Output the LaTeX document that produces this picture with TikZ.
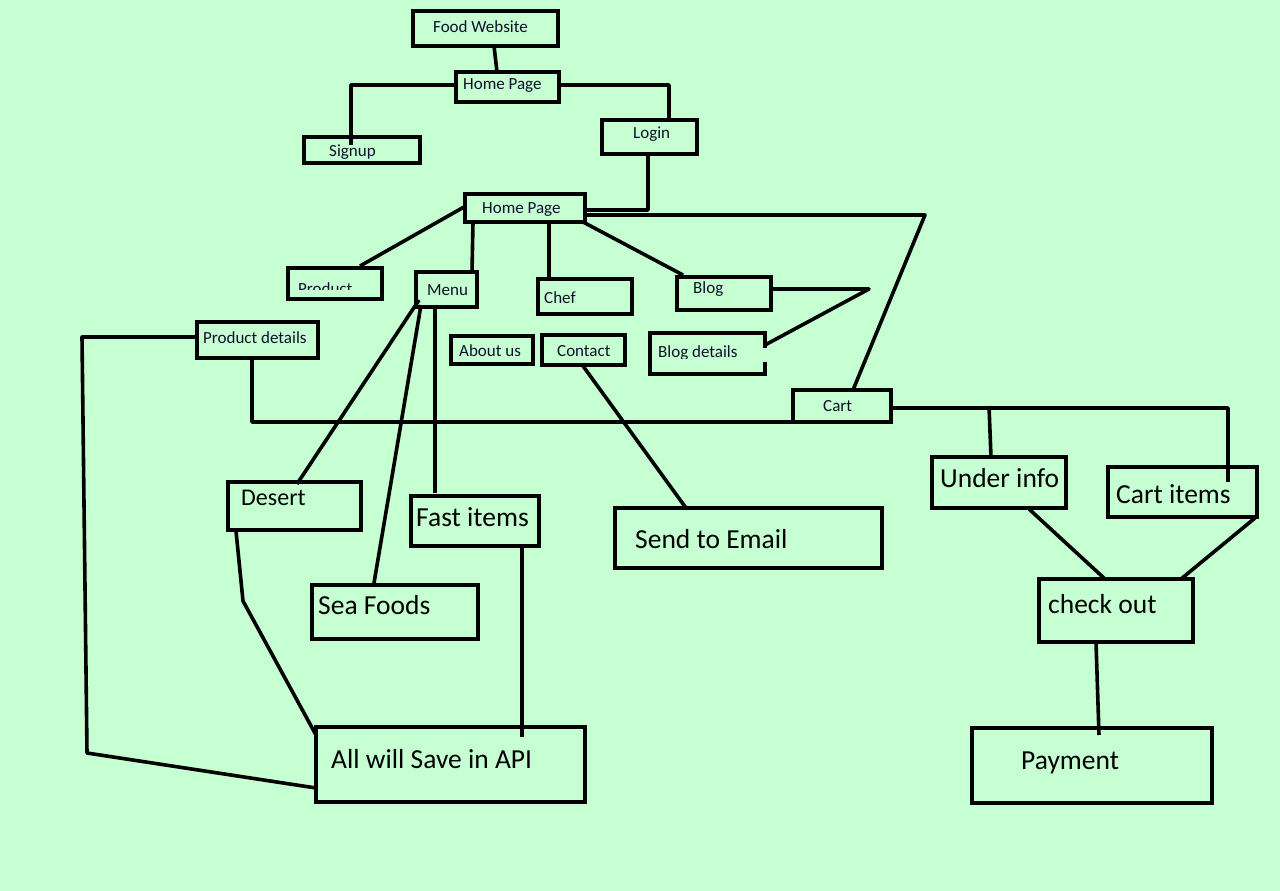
\documentclass[tikz,border=0pt]{standalone}
\usepackage{fontspec}
\setmainfont{Carlito}
\usetikzlibrary{calc}
\definecolor{bgc}{RGB}{197,255,210}
\definecolor{smalltxt}{RGB}{15,15,45}
\tikzset{
  box/.style={draw, line width=3.6pt, inner sep=0pt, outer sep=0pt, anchor=north west, line join=miter},
  ln/.style={line width=3.6pt, line join=round},
  sm/.style={inner sep=0pt, anchor=base west, text=smalltxt, font=\fontsize{17}{20}\selectfont},
  lg/.style={inner sep=0pt, anchor=base west, text=black, font=\fontsize{27.5}{32}\selectfont},
  md/.style={inner sep=0pt, anchor=base west, text=black, font=\fontsize{24}{28}\selectfont}
}
\begin{document}
\begin{tikzpicture}[x=1pt,y=-1pt]
\useasboundingbox (0,0) rectangle (1280,891);
\fill[bgc] (0,0) rectangle (1280,891);

% texts
\node[sm] (tfood) at (433,33) {Food Website};
\node[sm] (thome1) at (463,89) {Home Page};
\node[sm] (tsignup) at (329,156) {Signup};
\node[sm] (tlogin) at (633,138) {Login};
\node[sm] (thome2) at (482,213) {Home Page};
\begin{scope}
\clip (288,255) rectangle (382,289.5);
\node[sm] (tproduct) at (298,294) {Product};
\end{scope}
\node[sm] (tmenu) at (427,295) {Menu};
\node[sm] (tchef) at (544,303) {Chef};
\node[sm] (tblog) at (693,293) {Blog};
\node[sm] (tpdet) at (203,343) {Product details};
\node[sm] (tabout) at (459,356) {About us};
\node[sm] (tcontact) at (557,356) {Contact};
\begin{scope}
\clip (650,330) rectangle (765,358.5);
\node[sm] (tblogdet) at (658,357) {Blog details};
\end{scope}
\node[sm] (tcart) at (823,411) {Cart};
\node[md] (tdesert) at (241,505) {Desert};
\node[lg] (tfast) at (416,526) {Fast items};
\node[lg] (tsea) at (318,614) {Sea Foods};
\node[lg] (tapi) at (331,768) {All will Save in API};
\node[lg] (tunder) at (940,487) {Under info};
\node[lg] (tcartitems) at (1116,503) {Cart items};
\node[lg] (temail) at (635,548) {Send to Email};
\node[lg] (tcheck) at (1048,613) {check out};
\node[lg] (tpay) at (1021,769) {Payment};

% boxes
\node[box, minimum width=145pt, minimum height=35pt] (food) at (413,11) {};
\node[box, minimum width=103pt, minimum height=30pt] (home1) at (456,72) {};
\node[box, minimum width=116pt, minimum height=26pt] (signup) at (304,137) {};
\node[box, minimum width=95pt, minimum height=34pt] (login) at (602,120) {};
\node[box, minimum width=120pt, minimum height=28pt] (home2) at (465,194) {};
\node[box, minimum width=94pt, minimum height=31pt] (product) at (288,268) {};
\node[box, minimum width=61pt, minimum height=35pt] (menu) at (416,272) {};
\node[box, minimum width=94pt, minimum height=35pt] (chef) at (538,279) {};
\node[box, minimum width=94pt, minimum height=33pt] (blog) at (677,277) {};
\node[box, minimum width=121pt, minimum height=36pt] (pdetails) at (197,322) {};
\node[box, minimum width=82pt, minimum height=28pt] (about) at (451,336) {};
\node[box, minimum width=83pt, minimum height=30pt] (contact) at (542,335) {};
\node[box, draw=none, minimum width=115pt, minimum height=41pt] (blogdet) at (650,333) {};
\draw[line width=3.6pt, line join=miter] ($(blogdet.north east)+(0,15)$) -- (blogdet.north east) -- (blogdet.north west) -- (blogdet.south west) -- (blogdet.south east) -- ($(blogdet.north east)+(0,29)$);
\node[box, minimum width=98pt, minimum height=32pt] (cart) at (793,390) {};
\node[box, minimum width=133pt, minimum height=48pt] (desert) at (228,482) {};
\node[box, minimum width=128pt, minimum height=50pt] (fast) at (411,496) {};
\node[box, minimum width=166pt, minimum height=54pt] (seafoods) at (312,585) {};
\node[box, minimum width=267pt, minimum height=60pt] (email) at (615,508) {};
\node[box, minimum width=134pt, minimum height=51pt] (underinfo) at (932,457) {};
\node[box, minimum width=149pt, minimum height=50pt] (cartitems) at (1108,467) {};
\node[box, minimum width=154pt, minimum height=63pt] (checkout) at (1039,579) {};
\node[box, minimum width=269pt, minimum height=75pt] (api) at (316,727) {};
\node[box, minimum width=240pt, minimum height=75pt] (payment) at (972,728) {};

% bend points
\coordinate (c1) at (925,215);
\coordinate (c2) at (869,289);
\coordinate (c3) at (82,337);
\coordinate (c4) at (87,753);
\coordinate (c5) at (989,406);
\coordinate (c6) at (243,601);

% connectors
\draw[ln] ($(food.south west)+(81,0)$) -- ($(home1.north west)+(41,0)$);
\draw[ln] ($(home1.north west)+(0,13)$) -| ($(signup.north west)+(47,8)$);
\draw[ln] ($(home1.north east)+(0,13)$) -| ($(login.north west)+(67,0)$);
\draw[ln] ($(login.south west)+(46,0)$) |- ($(home2.north east)+(0,16)$);
\draw[ln] ($(home2.north east)+(0,21)$) -- (c1) -- ($(cart.north west)+(60,0)$);
\draw[ln] ($(home2.north west)+(-1,13)$) -- ($(product.north west)+(72,-2)$);
\draw[ln] ($(home2.south west)+(8,0)$) -- ($(menu.north west)+(56,0)$);
\draw[ln] ($(home2.south west)+(84,0)$) -- ($(chef.north west)+(11,0)$);
\draw[ln] ($(home2.south east)+(-2,0)$) -- ($(blog.north west)+(6,-2)$);
\draw[ln] ($(blog.north east)+(0,12)$) -- (c2) -- ($(blogdet.north east)+(0,12)$);
\draw[ln] ($(pdetails.north west)+(0,15)$) -- (c3) -- (c4) -- ($(api.north west)+(0,61)$);
\draw[ln] ($(pdetails.south west)+(55,0)$) |- (cart.south west);
\draw[ln] ($(cart.north east)+(0,18)$) -| ($(cartitems.north west)+(120,15)$);
\draw[ln] (c5) -- ($(underinfo.north west)+(59,0)$);
\draw[ln] ($(menu.north west)+(3,28)$) -- ($(desert.north west)+(69,2)$);
\draw[ln] ($(menu.north west)+(5,33)$) -- ($(seafoods.north west)+(62,-2)$);
\draw[ln] ($(menu.south west)+(19,0)$) -- ($(fast.north west)+(24,-3)$);
\draw[ln] ($(contact.south west)+(41,1)$) -- ($(email.north west)+(71,0)$);
\draw[ln] ($(desert.south west)+(8,1)$) -- (c6) -- ($(api.north west)+(0,8)$);
\draw[ln] ($(fast.south west)+(111,0)$) -- ($(api.north west)+(206,10)$);
\draw[ln] ($(underinfo.south west)+(97,1)$) -- ($(checkout.north west)+(66,0)$);
\draw[ln] ($(cartitems.south east)+(-2,1)$) -- ($(checkout.north west)+(142,0)$);
\draw[ln] ($(checkout.south west)+(57,0)$) -- ($(payment.north west)+(127,7)$);
\end{tikzpicture}
\end{document}
